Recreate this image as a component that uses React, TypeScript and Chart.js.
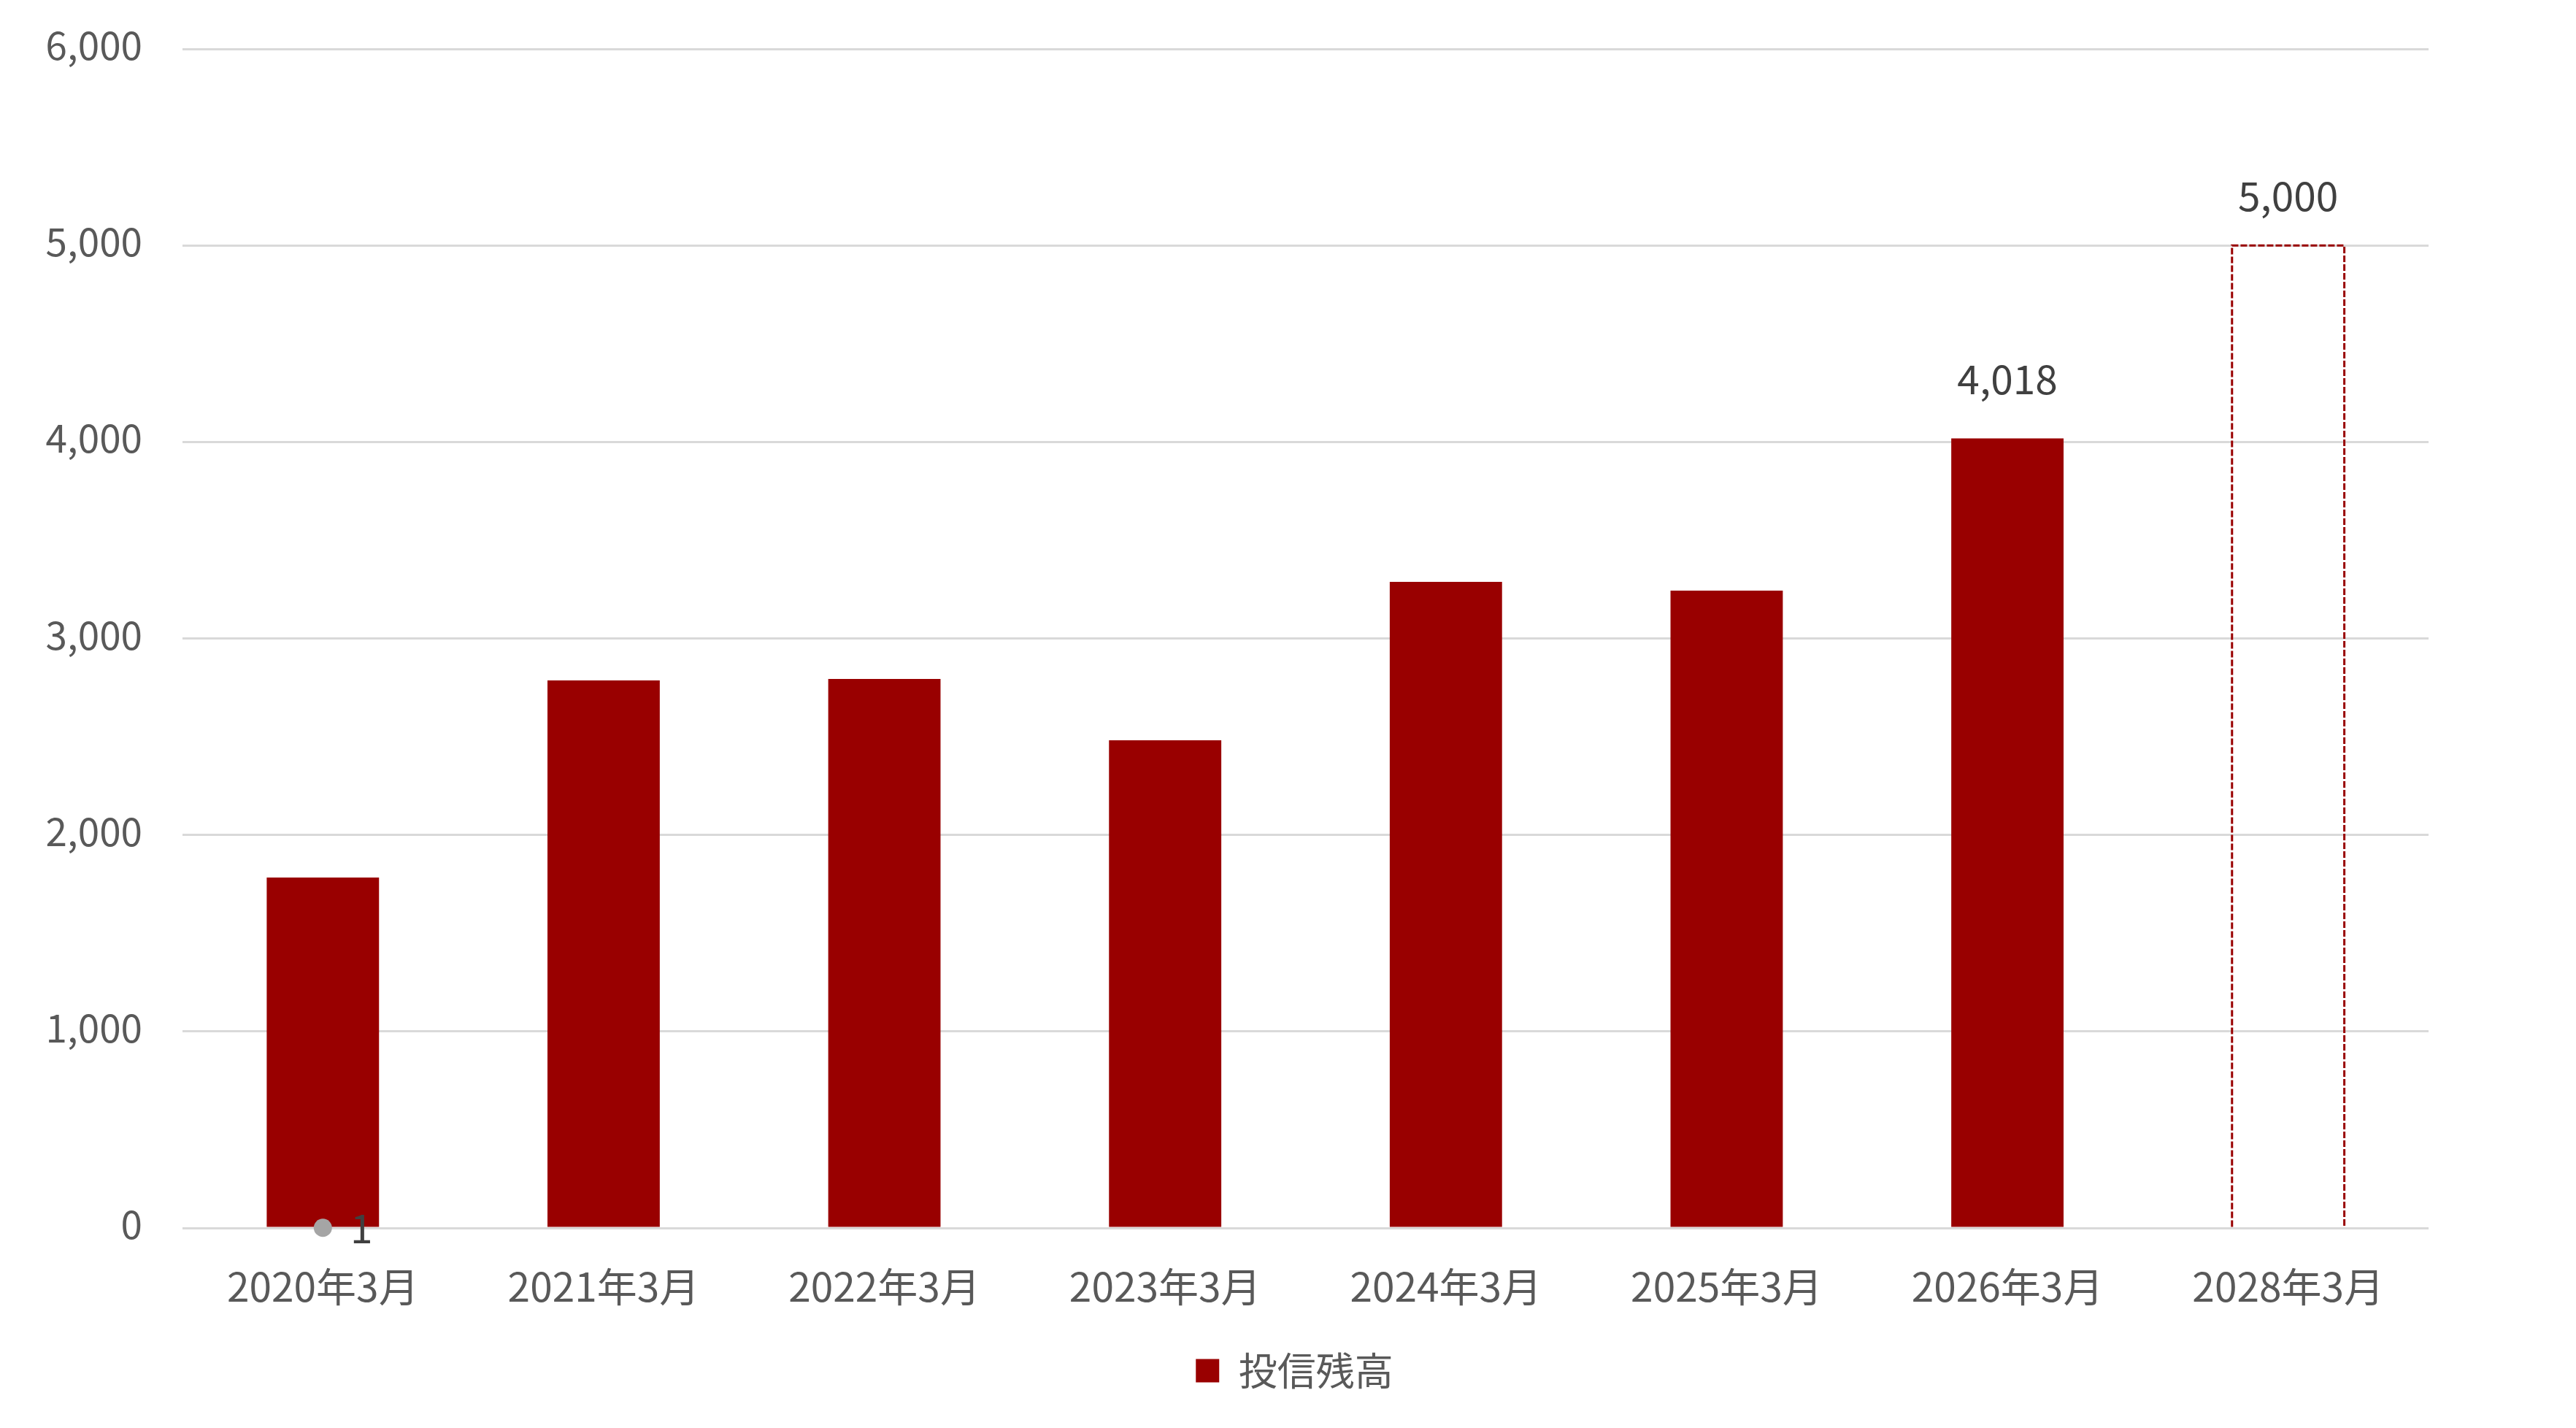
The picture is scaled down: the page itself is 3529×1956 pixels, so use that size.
import React, { useEffect, useRef } from "react";
import { Chart, registerables } from "chart.js";

Chart.register(...registerables);

const categories = ["2020年3月", "2021年3月", "2022年3月", "2023年3月", "2024年3月", "2025年3月", "2026年3月", "2028年3月"];
const balanceLabel = "投信残高";
const balanceValues: (number | null)[] = [1783, 2786, 2794, 2482, 3288, 3243, 4018, null];
const targetLabel = "目標";
const targetValues: (number | null)[] = [null, null, null, null, null, null, null, 5000];
const markerLabel = "系列2";
const markerValues: (number | null)[] = [1, null, null, null, null, null, null, null];
const labeledBalanceIndexes = [6];
const labeledTargetIndexes = [7];
const labeledMarkerIndexes = [0];
const yTicks = { min: 0, max: 6000, step: 1000 };

const FONT = "'Noto Sans CJK JP', 'Noto Sans', sans-serif";
const BAR_RED = "#990000";
const LEGEND_SHIFT = 110;

const fmt = (v: number) => v.toLocaleString("en-US");

const legendShiftPlugin = {
  id: "legendShift",
  afterLayout(chart: any) {
    const lg = chart.legend;
    if (lg) {
      lg.left += LEGEND_SHIFT;
      lg.right += LEGEND_SHIFT;
    }
  },
};

const labelsPlugin = {
  id: "customLabels",
  afterDatasetsDraw(chart: any) {
    const ctx = chart.ctx;
    ctx.save();
    ctx.font = `55px ${FONT}`;
    ctx.fillStyle = "#404040";
    ctx.textBaseline = "middle";

    // dashed target bar outline
    const tMeta = chart.getDatasetMeta(2);
    tMeta.data.forEach((el: any, i: number) => {
      if (targetValues[i] == null) return;
      const { x, y, base, width } = el.getProps(["x", "y", "base", "width"], true);
      ctx.save();
      ctx.strokeStyle = BAR_RED;
      ctx.lineWidth = 3;
      ctx.setLineDash([9, 3]);
      ctx.beginPath();
      ctx.moveTo(x - width / 2, base);
      ctx.lineTo(x - width / 2, y);
      ctx.lineTo(x + width / 2, y);
      ctx.lineTo(x + width / 2, base);
      ctx.stroke();
      ctx.restore();
    });

    const bMeta = chart.getDatasetMeta(1);
    ctx.textAlign = "center";
    labeledBalanceIndexes.forEach((i) => {
      const el: any = bMeta.data[i];
      const v = balanceValues[i];
      if (!el || v == null) return;
      ctx.fillText(fmt(v), el.x, el.y - 81);
    });
    labeledTargetIndexes.forEach((i) => {
      const el: any = tMeta.data[i];
      const v = targetValues[i];
      if (!el || v == null) return;
      ctx.fillText(fmt(v), el.x, el.y - 68);
    });
    const mMeta = chart.getDatasetMeta(0);
    labeledMarkerIndexes.forEach((i) => {
      const el: any = mMeta.data[i];
      const v = markerValues[i];
      if (!el || v == null) return;
      ctx.fillText(fmt(v), el.x + 53, el.y);
    });
    ctx.restore();
  },
};

export default function App() {
  const canvasRef = useRef<HTMLCanvasElement | null>(null);

  useEffect(() => {
    document.body.style.margin = "0";
    const canvas = canvasRef.current;
    if (!canvas) return;
    const chart = new Chart(canvas, {
      type: "bar",
      data: {
        labels: categories,
        datasets: [
          {
            type: "line",
            label: markerLabel,
            data: markerValues,
            showLine: false,
            clip: false,
            pointRadius: 12.5,
            pointHoverRadius: 12.5,
            pointBackgroundColor: "#A5A5A5",
            pointBorderWidth: 0,
            borderColor: "#A5A5A5",
            order: 0,
          } as any,
          {
            type: "bar",
            label: balanceLabel,
            data: balanceValues,
            backgroundColor: BAR_RED,
            borderWidth: 0,
            categoryPercentage: 1,
            barPercentage: 0.4,
            grouped: false,
            order: 1,
          } as any,
          {
            type: "bar",
            label: targetLabel,
            data: targetValues,
            backgroundColor: "rgba(0,0,0,0)",
            borderWidth: 0,
            categoryPercentage: 1,
            barPercentage: 0.4,
            grouped: false,
            order: 2,
          } as any,
        ],
      },
      options: {
        responsive: false,
        devicePixelRatio: 1,
        animation: false,
        layout: { padding: { left: 0, right: 202, top: 67, bottom: 42 } },
        plugins: {
          legend: {
            position: "bottom",
            labels: {
              filter: (item: any) => item.text === balanceLabel,
              boxWidth: 32,
              boxHeight: 32,
              padding: 17,
              color: "#595959",
              font: { family: FONT, size: 53 },
            },
          },
          tooltip: { enabled: false },
        },
        scales: {
          x: {
            grid: { display: false },
            border: { display: false },
            ticks: {
              color: "#595959",
              padding: 39,
              font: { family: FONT, size: 55 },
              maxRotation: 0,
              autoSkip: false,
            },
          },
          y: {
            min: yTicks.min,
            max: yTicks.max,
            grid: {
              color: "#D9D9D9",
              lineWidth: 3,
              drawTicks: true,
              tickLength: 55,
              tickColor: "rgba(0,0,0,0)",
            },
            border: { display: false },
            ticks: {
              stepSize: yTicks.step,
              color: "#595959",
              padding: 0,
              labelOffset: -5,
              font: { family: FONT, size: 53 },
              callback: (v: any) => fmt(Number(v)),
            },
            afterFit: (scale: any) => {
              scale.width = 250;
            },
          },
        },
      },
      plugins: [labelsPlugin, legendShiftPlugin],
    } as any);
    return () => chart.destroy();
  }, []);

  return (
    <div style={{ position: "absolute", left: 0, top: 0, width: 3529, height: 1956, background: "#fff" }}>
      <canvas ref={canvasRef} width={3529} height={1956} style={{ width: 3529, height: 1956 }} />
    </div>
  );
}
